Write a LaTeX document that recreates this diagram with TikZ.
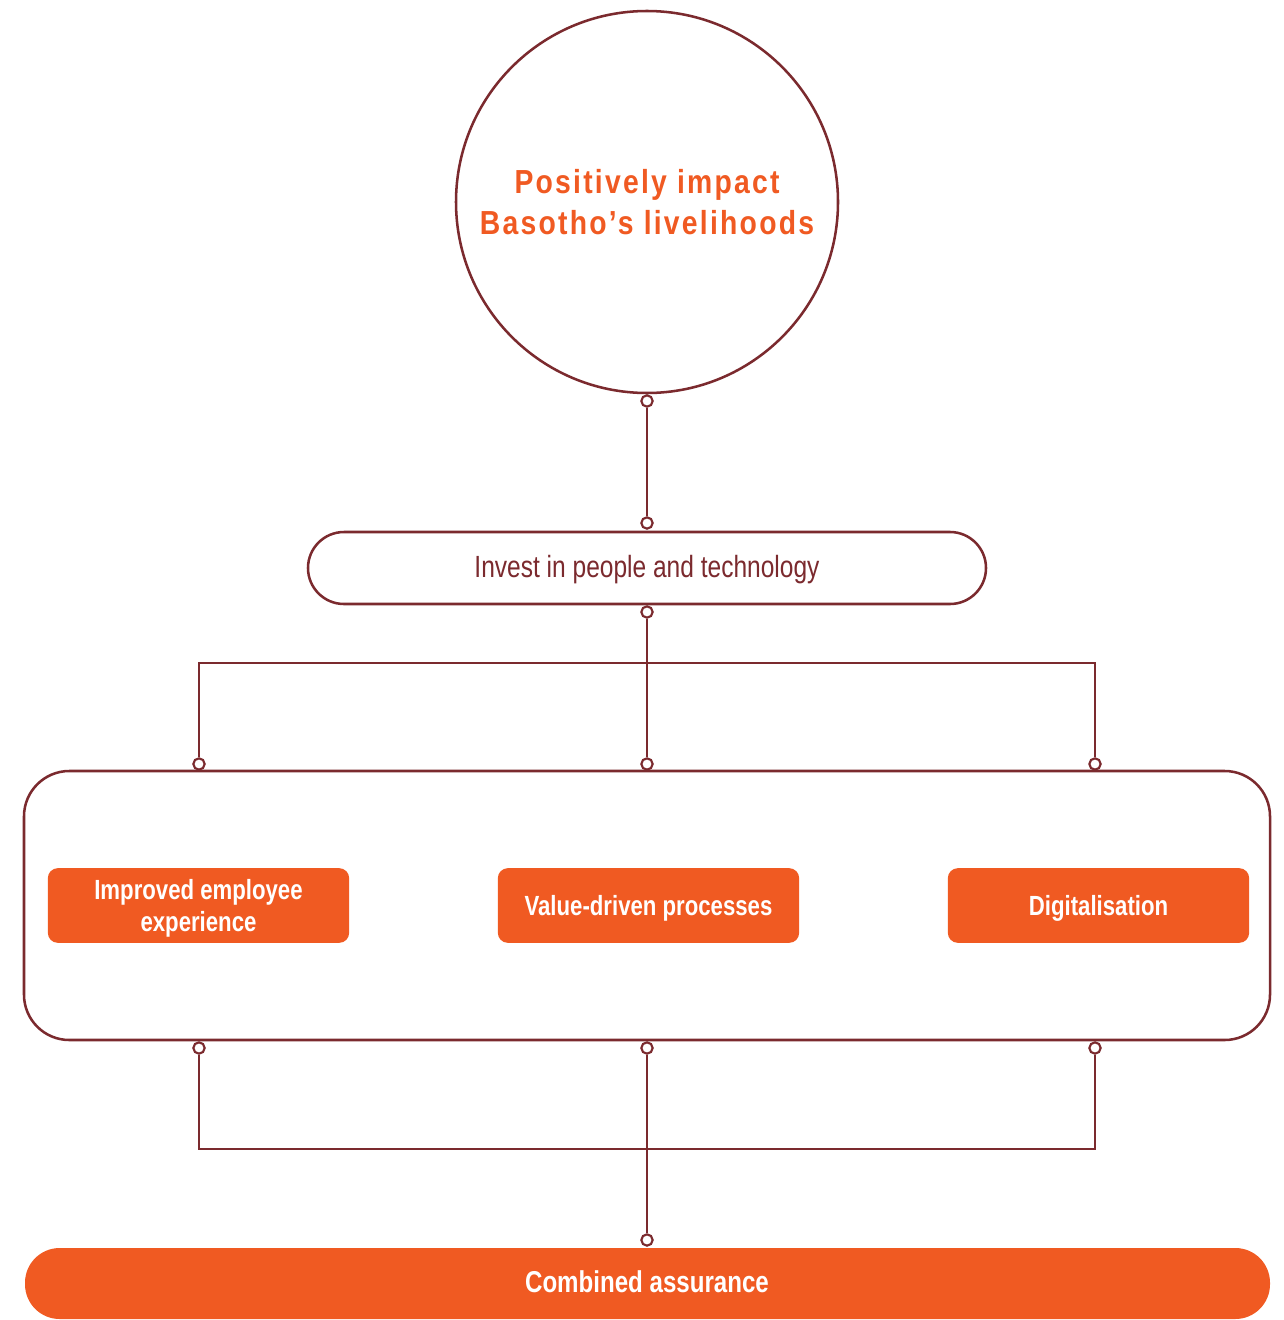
\documentclass[tikz,border=0pt]{standalone}
\usepackage{fontspec}
\setmainfont{Liberation Sans}
\newfontfamily\condfont[FakeStretch=0.8]{Liberation Sans}
\newfontfamily\headfont[FakeStretch=0.85,LetterSpace=6.7]{Liberation Sans}
\definecolor{wine}{HTML}{7B2A2E}
\definecolor{flame}{HTML}{F05A22}
\begin{document}
\begin{tikzpicture}[x=0.75pt,y=-0.75pt,
  link/.style={draw=wine,line width=1.9pt},
  ring/.style={circle,draw=wine,fill=white,line width=1.6pt,minimum size=8.5pt,inner sep=0pt},
  goalbox/.style={fill=flame,rounded corners=7.5pt,text=white,align=center,
    font=\condfont\bfseries\fontsize{20.8}{24}\selectfont,minimum width=226pt,minimum height=56pt,inner sep=0pt}]
\useasboundingbox (0,0) rectangle (1284,1320);
% top goal
\draw[link] (647,202) circle[radius=191];
\node[text=flame,align=center,font=\headfont\bfseries\fontsize{25}{30.5}\selectfont] (goal) at (647,202)
  {Positively impact\\Basotho’s livelihoods};
% middle pill
\draw[link,rounded corners=27pt] (308,532) rectangle (986,604);
\node[text=wine,font=\condfont\fontsize{23}{27}\selectfont] (invest) at (647,569.5) {Invest in people and technology};
% large frame
\draw[link,rounded corners=34pt] (24,771) rectangle (1270,1040);
% orange pillars
\node[goalbox] (p1) at (198.5,905.5) {};
\node[goalbox] (p2) at (648.5,905.5) {};
\node[goalbox] (p3) at (1098.5,905.5) {};
\node[text=white,align=center,font=\condfont\bfseries\fontsize{20.8}{24}\selectfont] at ([yshift=-2pt]p1.center) {Improved employee\\experience};
\node[text=white,font=\condfont\bfseries\fontsize{20.8}{24}\selectfont] at ([yshift=-2pt]p2.center) {Value-driven processes};
\node[text=white,font=\condfont\bfseries\fontsize{20.8}{24}\selectfont] at ([yshift=-2pt]p3.center) {Digitalisation};
% bottom bar
\fill[flame,rounded corners=26pt] (25,1248) rectangle (1270,1319);
\node[text=white,font=\condfont\bfseries\fontsize{22.6}{26}\selectfont] (base) at (647,1282) {Combined assurance};
% junction points
\coordinate (t1) at (199,663);
\coordinate (t3) at (1095,663);
\coordinate (b1) at (199,1149);
\coordinate (b3) at (1095,1149);
\node[ring] (r0) at (647,401) {};
\node[ring] (r1) at (647,523) {};
\node[ring] (r2) at (647,612) {};
\node[ring] (u1) at (199,764) {};
\node[ring] (u2) at (647,764) {};
\node[ring] (u3) at (1095,764) {};
\node[ring] (d1) at (199,1048) {};
\node[ring] (d2) at (647,1048) {};
\node[ring] (d3) at (1095,1048) {};
\node[ring] (r9) at (647,1240) {};
% connectors
\draw[link] (r0) -- (r1);
\draw[link] (r2) -- (u2);
\draw[link] (u1) -- (t1) -- (t3) -- (u3);
\draw[link] (d1) -- (b1) -- (b3) -- (d3);
\draw[link] (d2) -- (r9);
\end{tikzpicture}
\end{document}
